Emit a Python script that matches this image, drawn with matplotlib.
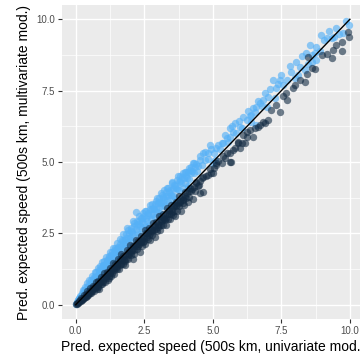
import matplotlib
matplotlib.use("Agg")
import matplotlib.pyplot as plt
from matplotlib.ticker import FixedLocator

plt.rcParams['font.family'] = ['Liberation Sans', 'DejaVu Sans']

# ---- data: first group (light blue) ----
light_x = [0.02, 0.05, 0.07, 0.10, 0.12, 0.15, 0.17, 0.20, 0.22, 0.25, 0.27, 0.30, 0.32, 0.35, 0.37, 0.40,
           0.42, 0.45, 0.47, 0.50, 0.52, 0.55, 0.57, 0.60, 0.62, 0.65, 0.67, 0.70, 0.72, 0.75, 0.77, 0.80,
           0.82, 0.85, 0.87, 0.90, 0.92, 0.95, 0.97, 1.00, 1.02, 1.05, 1.07, 1.10, 1.12, 1.15, 1.18, 1.20,
           1.23, 1.25, 1.28, 1.30, 1.33, 1.35, 1.38, 1.40, 1.43, 1.45, 1.48, 1.50, 1.53, 1.55, 1.58, 1.60,
           1.63, 1.65, 1.68, 1.70, 1.73, 1.75, 1.78, 1.80, 1.83, 1.85, 1.88, 1.90, 1.93, 1.95, 1.98, 2.00,
           2.03, 2.05, 2.08, 2.10, 2.13, 2.15, 2.21, 2.20, 2.23, 2.25, 2.28, 2.30, 2.33, 2.35, 2.38, 2.40,
           2.43, 2.45, 2.48, 2.50, 2.53, 2.55, 2.58, 2.60, 2.65, 2.68, 2.70, 2.73, 2.75, 2.78, 2.80, 2.83,
           2.85, 2.88, 2.90, 2.93, 2.95, 2.98, 3.00, 3.03, 3.05, 3.08, 3.10, 3.13, 3.15, 3.18, 3.20, 3.23,
           3.25, 3.28, 3.30, 3.33, 3.35, 3.38, 3.40, 3.45, 3.48, 3.50, 3.53, 3.55, 3.58, 3.60, 3.65, 3.68,
           3.70, 3.75, 3.78, 3.80, 3.85, 3.88, 3.90, 3.95, 3.98, 4.00, 4.05, 4.10, 4.15, 4.20, 4.25, 4.30,
           4.38, 4.45, 4.04, 4.16, 4.28, 4.34, 4.53, 4.65, 4.71, 4.83, 4.89, 5.01, 5.07, 5.13, 5.32, 5.38,
           5.50, 5.62, 5.62, 5.74, 5.80, 5.86, 5.99, 6.11, 6.23, 6.35, 6.41, 6.41, 6.53, 6.59, 6.59, 6.72,
           6.84, 6.90, 6.96, 7.02, 7.20, 7.26, 7.32, 7.38, 7.45, 7.57, 7.69, 7.87, 7.99, 8.11, 8.18, 8.36,
           8.39, 8.48, 8.60, 8.60, 8.72, 8.78, 8.78, 8.91, 9.06, 9.15, 9.33, 9.42, 9.61, 9.76, 9.98,
           0.15, 0.24, 0.34, 0.44, 0.54, 0.64, 0.74, 0.84, 0.94, 1.04, 1.13, 1.22, 1.32, 1.42, 1.52, 1.62,
           1.72, 1.82, 1.92, 2.02, 2.12, 2.22, 2.32, 2.42, 2.52, 2.62, 2.72, 2.82, 2.92, 3.02, 3.12, 3.22,
           3.32, 3.42, 3.52, 3.62, 3.72, 3.82, 3.92, 4.02, 4.12, 4.22, 4.32, 4.42, 4.52, 4.62, 4.72, 4.82,
           4.95, 5.05, 5.20, 5.25, 5.45, 5.55, 5.70, 5.95, 6.05, 6.30, 6.45, 6.65, 6.78, 7.10, 7.50, 7.80,
           8.05, 8.25, 8.55, 8.95, 9.25, 9.50, 9.85, 0.55, 1.00, 1.50, 2.00, 2.60, 3.10, 3.60, 4.10]
light_y = [0.04, 0.09, 0.15, 0.15, 0.24, 0.23, 0.32, 0.30, 0.42, 0.37, 0.52, 0.38, 0.50, 0.63, 0.49, 0.62,
           0.75, 0.55, 0.72, 0.88, 0.67, 0.85, 0.62, 1.02, 0.82, 0.97, 0.79, 1.15, 0.97, 1.13, 0.85, 1.30,
           1.04, 1.20, 1.02, 1.35, 1.20, 1.50, 1.07, 1.38, 1.24, 1.53, 1.37, 1.68, 1.27, 1.55, 1.43, 1.72,
           1.58, 1.85, 1.46, 1.75, 1.63, 1.97, 1.48, 1.80, 1.68, 2.00, 1.83, 2.15, 1.73, 2.03, 1.88, 2.30,
           1.78, 2.07, 2.26, 1.98, 2.48, 2.13, 2.28, 2.00, 2.48, 2.17, 2.68, 2.35, 2.05, 2.53, 2.33, 2.70,
           2.28, 2.55, 2.93, 2.48, 2.75, 2.33, 3.24, 2.65, 2.95, 2.55, 2.83, 3.10, 2.48, 2.77, 3.03, 2.68,
           2.93, 3.20, 2.83, 3.10, 2.73, 3.03, 3.28, 2.92, 3.20, 2.78, 3.35, 3.13, 3.00, 3.36, 3.52, 3.18,
           3.35, 3.06, 3.52, 3.35, 3.73, 3.26, 3.55, 3.41, 3.73, 3.23, 3.58, 3.85, 3.45, 3.76, 3.60, 4.03,
           3.47, 3.80, 3.95, 3.68, 3.80, 4.08, 3.55, 4.03, 3.86, 4.25, 3.81, 4.05, 4.20, 3.80, 4.10, 4.36,
           4.05, 4.30, 4.03, 4.52, 4.27, 4.48, 4.08, 4.45, 4.28, 4.65, 4.45, 4.65, 4.40, 4.82, 4.70, 4.60,
           4.93, 4.85, 4.66, 4.72, 4.95, 4.84, 5.07, 5.30, 5.07, 5.30, 5.59, 4.95, 5.07, 5.48, 5.65, 5.65,
           5.83, 5.88, 6.20, 6.06, 6.35, 6.00, 6.23, 6.58, 6.47, 6.61, 6.41, 6.64, 6.76, 6.93, 6.29, 7.05,
           7.17, 7.40, 6.93, 7.28, 7.87, 7.23, 7.58, 7.75, 7.87, 7.69, 7.89, 8.16, 7.93, 8.04, 8.33, 8.22,
           8.82, 8.45, 8.74, 8.51, 8.82, 9.03, 8.57, 8.89, 9.29, 9.36, 9.33, 9.38, 9.48, 9.52, 9.79,
           0.20, 0.33, 0.45, 0.60, 0.73, 0.88, 0.98, 1.12, 1.30, 1.40, 1.50, 1.62, 1.86, 1.92, 1.95, 2.12,
           2.25, 2.35, 2.62, 2.60, 2.88, 2.80, 2.95, 3.05, 3.30, 3.15, 3.50, 3.40, 3.62, 3.60, 3.90, 3.72,
           4.10, 3.95, 4.30, 4.15, 4.50, 4.35, 4.62, 4.50, 4.80, 4.60, 4.98, 4.70, 5.20, 4.90, 5.35, 5.10,
           5.45, 5.30, 5.60, 5.45, 5.95, 5.70, 6.25, 6.45, 6.20, 6.80, 6.90, 7.15, 6.95, 7.55, 8.05, 8.35,
           8.50, 8.70, 9.10, 9.45, 9.60, 9.70, 9.95, 0.56, 1.05, 1.55, 2.05, 2.62, 3.15, 3.62, 4.15]

# ---- data: second group (dark navy) ----
dark_x = [0.01, 0.03, 0.06, 0.08, 0.11, 0.13, 0.16, 0.18, 0.21, 0.23, 0.26, 0.28, 0.31, 0.33, 0.36, 0.38,
          0.41, 0.43, 0.46, 0.48, 0.51, 0.53, 0.56, 0.58, 0.61, 0.63, 0.66, 0.68, 0.71, 0.73, 0.76, 0.78,
          0.81, 0.83, 0.86, 0.88, 0.91, 0.93, 0.96, 0.98, 1.01, 1.04, 1.06, 1.09, 1.11, 1.14, 1.16, 1.19,
          1.21, 1.24, 1.26, 1.29, 1.31, 1.34, 1.36, 1.39, 1.41, 1.44, 1.46, 1.49, 1.51, 1.54, 1.56, 1.59,
          1.61, 1.64, 1.66, 1.69, 1.71, 1.74, 1.76, 1.79, 1.81, 1.84, 1.86, 1.89, 1.91, 1.94, 1.96, 1.99,
          2.01, 2.04, 2.09, 2.09, 2.12, 2.14, 2.17, 2.19, 2.22, 2.24, 2.27, 2.29, 2.34, 2.34, 2.37, 2.39,
          2.42, 2.44, 2.47, 2.49, 2.52, 2.54, 2.57, 2.59, 2.62, 2.64, 2.67, 2.69, 2.72, 2.74, 2.77, 2.79,
          2.82, 2.84, 2.87, 2.89, 2.92, 2.94, 2.97, 2.99, 3.02, 3.04, 3.07, 3.09, 3.12, 3.14, 3.17, 3.19,
          3.22, 3.24, 3.27, 3.29, 3.32, 3.34, 3.37, 3.39, 3.42, 3.44, 3.47, 3.49, 3.52, 3.54, 3.57, 3.60,
          3.62, 3.65, 3.67, 3.70, 3.73, 3.76, 3.78, 3.81, 3.84, 3.87, 3.90, 3.93, 3.96, 3.99, 4.03, 4.07,
          4.10, 4.14, 4.18, 4.22, 4.26, 4.30, 4.35, 4.40, 4.45, 4.53, 4.55, 4.65, 4.65, 4.83, 4.95, 5.01,
          5.13, 5.13, 5.32, 5.38, 5.50, 5.62, 5.62, 5.68, 5.74, 5.92, 5.92, 5.99, 6.05, 6.17, 6.23, 6.23,
          6.35, 6.47, 6.65, 6.72, 6.84, 6.90, 7.02, 7.14, 7.45, 7.66, 7.69, 7.93, 8.18, 8.36, 8.42, 8.48,
          8.72, 9.15, 9.33, 9.37, 9.70, 9.72, 9.94, 9.96,
          0.20, 0.30, 0.40, 0.50, 0.60, 0.70, 0.80, 0.90, 1.00, 1.10, 1.20, 1.30, 1.40, 1.50, 1.60, 1.70,
          1.80, 1.90, 2.00, 2.10, 2.20, 2.30, 2.40, 2.50, 2.60, 2.70, 2.80, 2.90, 3.00, 3.10, 3.20, 3.30,
          3.40, 3.50, 3.60, 3.70, 3.80, 3.90, 4.00, 4.12, 4.25, 4.38, 4.48, 4.60, 4.75, 4.90, 5.05, 5.20,
          5.45, 5.80, 6.10, 6.55, 7.30, 7.55, 8.00, 8.60, 9.00, 9.50]
dark_y = [0.01, 0.02, 0.06, 0.06, 0.12, 0.10, 0.16, 0.13, 0.23, 0.17, 0.24, 0.20, 0.34, 0.28, 0.26, 0.38,
          0.34, 0.47, 0.34, 0.45, 0.42, 0.58, 0.41, 0.54, 0.51, 0.65, 0.48, 0.62, 0.59, 0.79, 0.56, 0.70,
          0.67, 0.83, 0.56, 0.78, 0.73, 0.97, 0.74, 0.92, 0.86, 1.12, 0.81, 0.99, 0.93, 1.16, 0.86, 1.11,
          1.01, 1.29, 1.12, 1.01, 1.26, 1.12, 1.46, 1.27, 1.09, 1.42, 1.28, 1.41, 1.25, 1.60, 1.41, 1.24,
          1.56, 1.42, 1.78, 1.57, 1.41, 1.72, 1.58, 1.39, 1.73, 1.59, 1.91, 1.74, 1.59, 1.89, 1.76, 2.09,
          1.73, 1.92, 1.61, 2.07, 1.90, 1.79, 2.09, 2.27, 2.04, 1.94, 2.22, 2.04, 1.86, 2.22, 2.42, 2.19,
          2.07, 2.36, 2.19, 2.34, 2.62, 2.14, 2.52, 2.37, 2.30, 2.52, 2.69, 2.44, 2.27, 2.66, 2.59, 2.44,
          2.88, 2.62, 2.75, 2.37, 2.64, 2.89, 2.59, 2.84, 3.10, 2.79, 2.62, 2.99, 2.80, 2.96, 3.19, 2.79,
          3.00, 3.16, 2.97, 2.79, 3.17, 3.39, 3.02, 3.19, 3.32, 3.02, 3.19, 3.49, 3.34, 3.16, 3.45, 3.30,
          3.12, 3.60, 3.45, 3.30, 3.58, 3.81, 3.46, 3.61, 3.29, 3.77, 3.55, 3.68, 3.51, 3.94, 3.75, 3.92,
          3.60, 3.79, 4.10, 3.97, 3.71, 4.12, 3.97, 4.30, 4.15, 3.91, 4.35, 3.96, 4.49, 4.55, 4.60, 4.60,
          4.90, 4.95, 4.95, 5.21, 5.30, 5.30, 5.01, 5.01, 5.42, 5.65, 5.71, 5.48, 5.65, 5.65, 5.88, 6.06,
          6.12, 5.88, 6.23, 6.29, 6.41, 6.38, 6.47, 6.82, 6.76, 7.40, 7.17, 7.58, 7.89, 7.81, 8.10, 8.68,
          8.27, 8.80, 8.63, 8.92, 9.21, 8.88, 9.56, 9.38,
          0.18, 0.25, 0.32, 0.40, 0.48, 0.62, 0.62, 0.80, 0.78, 1.02, 0.95, 1.18, 1.22, 1.35, 1.38, 1.62,
          1.52, 1.80, 1.85, 1.95, 2.10, 2.12, 2.28, 2.25, 2.50, 2.52, 2.62, 2.78, 2.72, 2.95, 3.05, 3.05,
          3.28, 3.25, 3.48, 3.50, 3.65, 3.72, 3.80, 4.00, 4.05, 4.25, 4.20, 4.45, 4.50, 4.75, 4.80, 5.05,
          5.15, 5.50, 5.95, 6.20, 7.00, 7.30, 7.70, 8.30, 8.75, 9.10]

# reference line y = x
line_x = [0, 10]
line_y = [0, 10]

x_ticks = [0.0, 2.5, 5.0, 7.5, 10.0]
y_ticks = [0.0, 2.5, 5.0, 7.5, 10.0]
tick_labels = ["0.0", "2.5", "5.0", "7.5", "10.0"]
minor_ticks = [1.25, 3.75, 6.25, 8.75]

fig = plt.figure(figsize=(3.6, 3.58), dpi=100)
ax = fig.add_axes([62/360, 39/358, 301.6/360, 314/358])
ax.set_facecolor("#EBEBEB")

ax.scatter(light_x, light_y, s=28, color="#56B1F7", alpha=0.65, linewidths=0, zorder=3)
ax.scatter(dark_x, dark_y, s=28, color="#132B43", alpha=0.6, linewidths=0, zorder=3)
ax.plot(line_x, line_y, color="black", linewidth=1.0, zorder=4)

ax.set_xlim(-0.5, 10.5)
ax.set_ylim(-0.5, 10.5)
ax.xaxis.set_major_locator(FixedLocator(x_ticks))
ax.yaxis.set_major_locator(FixedLocator(y_ticks))
ax.set_xticklabels(tick_labels)
ax.set_yticklabels(tick_labels)
ax.xaxis.set_minor_locator(FixedLocator(minor_ticks))
ax.yaxis.set_minor_locator(FixedLocator(minor_ticks))
ax.grid(which="major", color="white", linewidth=1.0, zorder=0)
ax.grid(which="minor", color="white", linewidth=0.5, zorder=0)
ax.set_axisbelow(True)
for s in ax.spines.values():
    s.set_visible(False)
ax.tick_params(which="major", length=3, width=0.8, color="#333333",
               labelsize=7, labelcolor="#4D4D4D", pad=2)
ax.tick_params(which="minor", length=0)

ax.set_xlabel("Pred. expected speed (500s km, univariate mod.)", fontsize=10, color="black", labelpad=3)
ax.set_ylabel("Pred. expected speed (500s km, multivariate mod.)", fontsize=10, color="black", labelpad=4)

fig.savefig("out.png", dpi=100)
